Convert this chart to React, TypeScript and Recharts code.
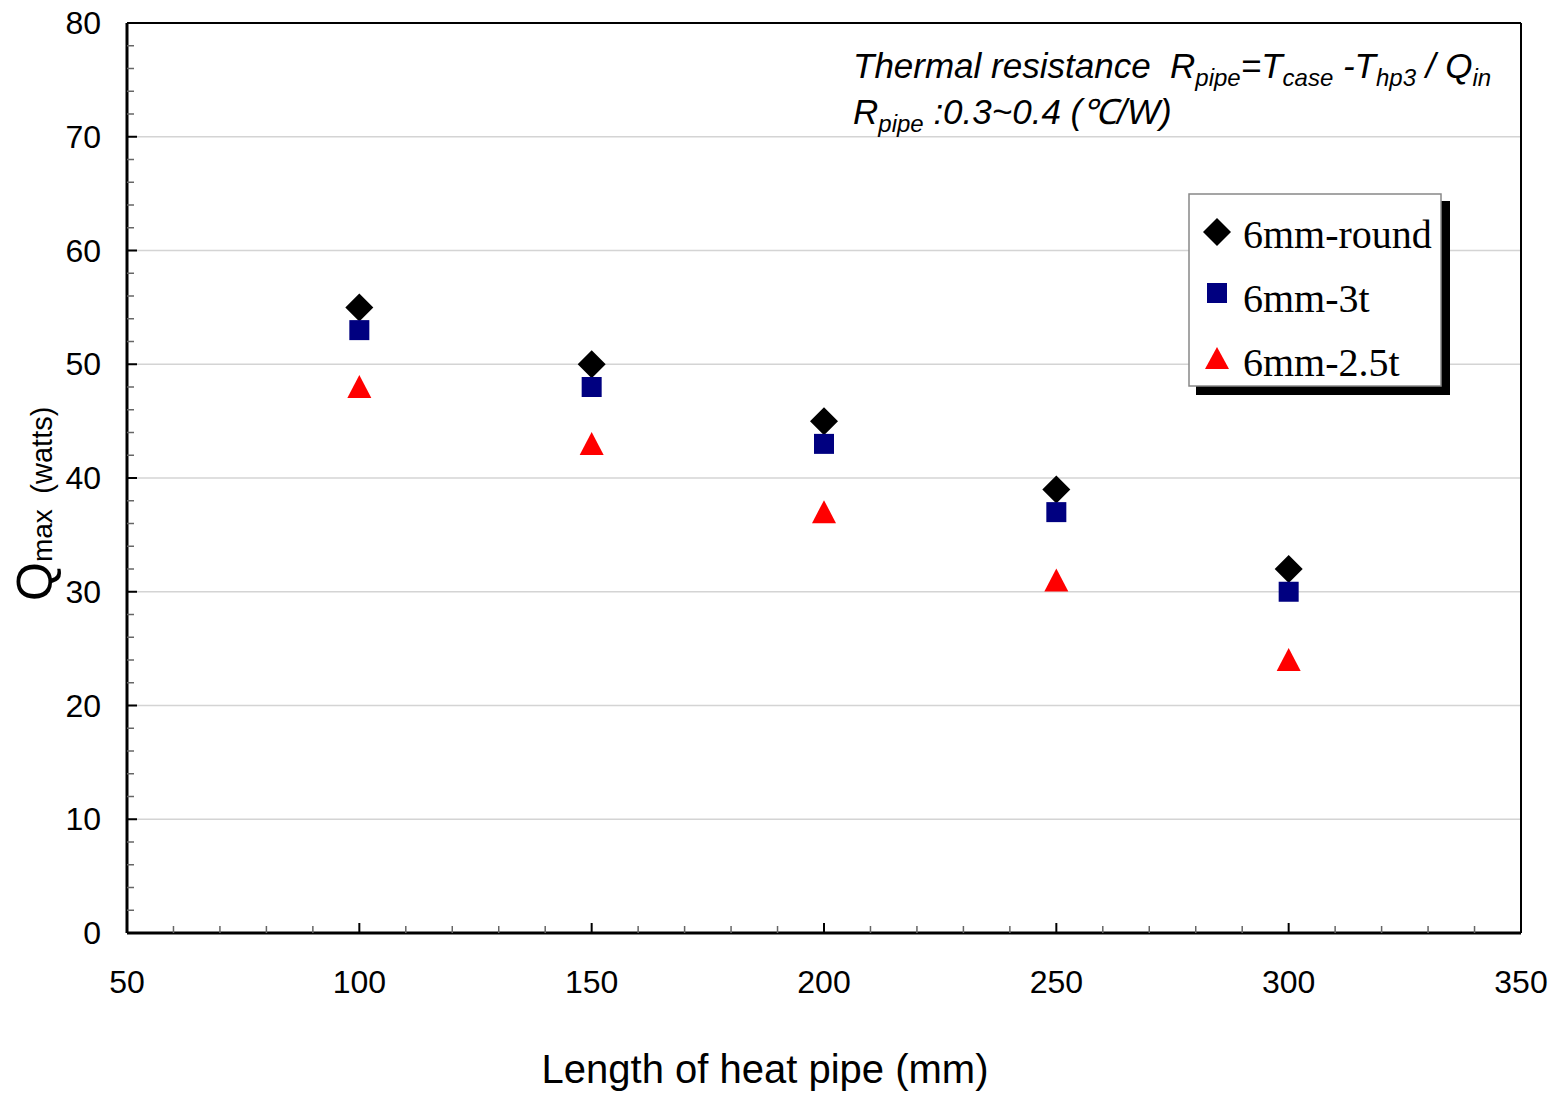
import React from 'react';
import { ScatterChart, Scatter, XAxis, YAxis, ReferenceLine } from 'recharts';

// length of heat pipe (mm)
const lengths = [100, 150, 200, 250, 300];
// Qmax (watts) per pipe type
const roundQ = [55, 50, 45, 39, 32];
const t3Q = [53, 48, 43, 37, 30];
const t25Q = [48, 43, 37, 31, 24];

const seriesNames = ['6mm-round', '6mm-3t', '6mm-2.5t'];
const xMajor = [50, 100, 150, 200, 250, 300, 350];
const yMajor = [0, 10, 20, 30, 40, 50, 60, 70, 80];
const gridLines = [10, 20, 30, 40, 50, 60, 70];

const xTicks: number[] = [];
for (let v = 50; v <= 350; v += 10) xTicks.push(v);
const yTicks: number[] = [];
for (let v = 0; v <= 80; v += 2) yTicks.push(v);

const toPoints = (vals: number[]) => lengths.map((x, i) => ({ x, y: vals[i] }));
const roundData = toPoints(roundQ);
const t3Data = toPoints(t3Q);
const t25Data = toPoints(t25Q);

const sans = '"Liberation Sans", Arial, sans-serif';
const serif = '"Liberation Serif", "Times New Roman", serif';

const XTick = (props: any) => {
  const { x, y, payload } = props;
  const v = payload.value;
  const major = xMajor.includes(v);
  return (
    <g>
      <line x1={x} y1={y} x2={x} y2={y - (major ? 10 : 7)} stroke={major ? '#000' : '#666'} strokeWidth={major ? 2 : 1.5} />
      {major && (
        <text x={x} y={y + 60} textAnchor="middle" fontSize={32} fontFamily={sans} fill="#000">{v}</text>
      )}
    </g>
  );
};

const YTick = (props: any) => {
  const { x, y, payload } = props;
  const v = payload.value;
  const major = yMajor.includes(v);
  return (
    <g>
      <line x1={x} y1={y} x2={x + (major ? 10 : 7)} y2={y} stroke={major ? '#000' : '#666'} strokeWidth={major ? 2 : 1.5} />
      {major && (
        <text x={x - 26} y={y + 11} textAnchor="end" fontSize={32} fontFamily={sans} fill="#000">{v}</text>
      )}
    </g>
  );
};

const Diamond = ({ cx, cy }: any) => (
  <polygon points={`${cx},${cy - 14} ${cx + 14},${cy} ${cx},${cy + 14} ${cx - 14},${cy}`} fill="#000" />
);
const Square = ({ cx, cy }: any) => (
  <rect x={cx - 10} y={cy - 10} width={20} height={20} fill="#000080" />
);
const Triangle = ({ cx, cy }: any) => (
  <polygon points={`${cx},${cy - 12} ${cx + 12},${cy + 11} ${cx - 12},${cy + 11}`} fill="#ff0000" />
);

export default function App() {
  return (
    <div style={{ position: 'absolute', left: 0, top: 0, width: 1564, height: 1093, background: '#fff' }}>
      <ScatterChart width={1564} height={1093} margin={{ top: 23, right: 43, bottom: 0, left: 0 }}>
        <XAxis
          type="number"
          dataKey="x"
          domain={[50, 350]}
          ticks={xTicks}
          interval={0}
          height={160}
          tickSize={0}
          tickMargin={0}
          tickLine={false}
          axisLine={{ stroke: '#000', strokeWidth: 3 }}
          tick={<XTick />}
        />
        <YAxis
          type="number"
          dataKey="y"
          domain={[0, 80]}
          ticks={yTicks}
          interval={0}
          width={127}
          tickSize={0}
          tickMargin={0}
          tickLine={false}
          axisLine={{ stroke: '#000', strokeWidth: 3 }}
          tick={<YTick />}
        />
        {gridLines.map((g) => (
          <ReferenceLine key={g} y={g} stroke="#d4d4d4" strokeWidth={1.5} />
        ))}
        <ReferenceLine y={80} stroke="#000" strokeWidth={2} />
        <ReferenceLine x={350} stroke="#000" strokeWidth={2} />
        <Scatter name={seriesNames[0]} data={roundData} shape={<Diamond />} isAnimationActive={false} />
        <Scatter name={seriesNames[1]} data={t3Data} shape={<Square />} isAnimationActive={false} />
        <Scatter name={seriesNames[2]} data={t25Data} shape={<Triangle />} isAnimationActive={false} />
      </ScatterChart>

      <svg width={1564} height={1093} style={{ position: 'absolute', left: 0, top: 0, pointerEvents: 'none' }}>
        {/* annotation */}
        <text x={853} y={78} fontSize={35} fontStyle="italic" fontFamily={sans} fill="#000" style={{ whiteSpace: 'pre' }}>
          Thermal resistance  R
          <tspan fontSize={24} dy={8}>pipe</tspan>
          <tspan dy={-8}>=T</tspan>
          <tspan fontSize={24} dy={8}>case</tspan>
          <tspan dy={-8}> -T</tspan>
          <tspan fontSize={24} dy={8}>hp3</tspan>
          <tspan dy={-8}> / Q</tspan>
          <tspan fontSize={24} dy={8}>in</tspan>
        </text>
        <text x={853} y={124} fontSize={35} fontStyle="italic" fontFamily={sans} fill="#000" style={{ whiteSpace: 'pre' }}>
          R
          <tspan fontSize={24} dy={8}>pipe</tspan>
          <tspan dy={-8}> :0.3~0.4 (℃/W)</tspan>
        </text>

        {/* y axis title */}
        <text transform="translate(52,601) rotate(-90)" fontFamily={sans} fill="#000" style={{ whiteSpace: 'pre' }}>
          <tspan fontSize={50}>Q</tspan>
          <tspan fontSize={28}>max  </tspan>
          <tspan fontSize={29}>(watts)</tspan>
        </text>

        {/* x axis title */}
        <text x={765} y={1083} textAnchor="middle" fontSize={40} fontFamily={sans} fill="#000">Length of heat pipe (mm)</text>

        {/* legend */}
        <rect x={1196} y={201} width={254} height={194} fill="#000" />
        <rect x={1189} y={194} width={252} height={192} fill="#fff" stroke="#888" strokeWidth={1.5} />
        <polygon points="1217,218 1231,232 1217,246 1203,232" fill="#000" />
        <rect x={1207} y={283} width={20} height={20} fill="#000080" />
        <polygon points="1217,347 1229,369 1205,369" fill="#ff0000" />
        <text x={1243} y={248} fontSize={40} fontFamily={serif} fill="#000">{seriesNames[0]}</text>
        <text x={1243} y={312} fontSize={40} fontFamily={serif} fill="#000">{seriesNames[1]}</text>
        <text x={1243} y={376} fontSize={40} fontFamily={serif} fill="#000">{seriesNames[2]}</text>
      </svg>
    </div>
  );
}
